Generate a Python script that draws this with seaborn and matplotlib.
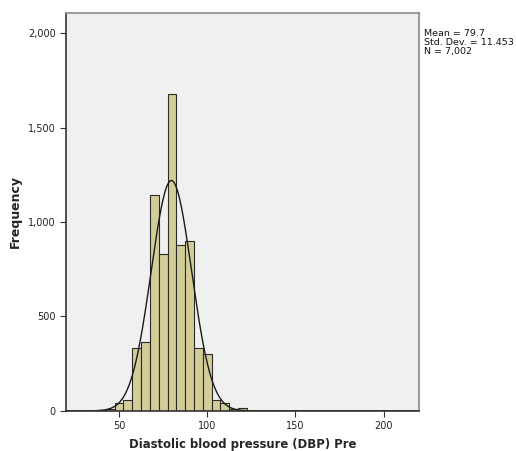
import numpy as np
import pandas as pd
import matplotlib
matplotlib.use("Agg")
import matplotlib.pyplot as plt
import seaborn as sns

# Binned frequencies of diastolic blood pressure (5 mmHg bins, labelled by bin centre)
bin_centers = [40, 45, 50, 55, 60, 65, 70, 75, 80, 85, 90, 95, 100, 105, 110, 115, 120]
frequencies = [3, 12, 40, 58, 335, 365, 1145, 832, 1680, 880, 900, 335, 300, 60, 42, 8, 15]

mean_dbp = 79.7
sd_dbp = 11.453
n_obs = 7002
bin_width = 5

x_ticks = [50, 100, 150, 200]
y_ticks = [0, 500, 1000, 1500, 2000]

sns.set_theme(style="white")
plt.rcParams["font.family"] = ["DejaVu Sans"]

fig = plt.figure(figsize=(5.16, 4.51), dpi=100)
ax = fig.add_axes([0.128, 0.089, 0.684, 0.882])
ax.set_facecolor("#F0F0F0")

df = pd.DataFrame({"dbp": bin_centers, "count": frequencies})
edges = [c - bin_width / 2 for c in bin_centers] + [bin_centers[-1] + bin_width / 2]
sns.histplot(data=df, x="dbp", weights="count", bins=edges, ax=ax,
             color="#D3CE98", alpha=1.0, edgecolor="#2a2a2a", linewidth=0.8)

# Fitted normal curve scaled to counts per bin
xs = np.linspace(20, 220, 600)
pdf = n_obs * bin_width / (sd_dbp * np.sqrt(2 * np.pi)) * np.exp(-0.5 * ((xs - mean_dbp) / sd_dbp) ** 2)
sns.lineplot(x=xs, y=pdf, ax=ax, color="#1a1a1a", linewidth=1.0)

ax.set_xlim(20, 220)
ax.set_ylim(0, 2106)
ax.set_xticks(x_ticks)
ax.set_xticklabels([f"{v}" for v in x_ticks])
ax.set_yticks(y_ticks)
ax.set_yticklabels([f"{v:,}" for v in y_ticks])
ax.tick_params(axis="both", which="both", direction="out", length=4, width=0.8,
               colors="#333333", labelsize=7, labelcolor="#222222", bottom=True, left=True)

for side in ["top", "right"]:
    ax.spines[side].set_color("#8a8a8a")
    ax.spines[side].set_linewidth(1.2)
for side in ["left", "bottom"]:
    ax.spines[side].set_color("#333333")
    ax.spines[side].set_linewidth(1.2)

ax.set_xlabel("Diastolic blood pressure (DBP) Pre", fontsize=8.4, fontweight="bold", labelpad=4.5)
ax.set_ylabel("Frequency", fontsize=9, fontweight="bold", labelpad=4)

fig.text(0.822, 0.935, f"Mean = {mean_dbp}\nStd. Dev. = {sd_dbp}\nN = {n_obs:,}",
         fontsize=6.8, va="top", ha="left", color="#111111", linespacing=1.0)

fig.savefig("out.png", dpi=100)
